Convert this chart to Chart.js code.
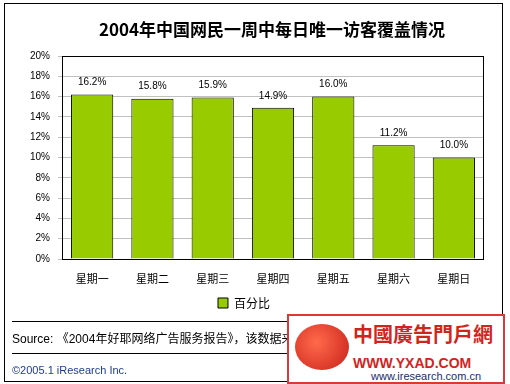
<!DOCTYPE html>
<html><head><meta charset="utf-8">
<script src="https://cdn.jsdelivr.net/npm/chart.js@4/dist/chart.umd.min.js"></script>
<style>
html,body{margin:0;padding:0;background:#fff;}
#wrap{position:relative;width:510px;height:384px;overflow:hidden;}
canvas{position:absolute;left:0;top:0;}
.txt{position:absolute;white-space:nowrap;}
</style></head><body>
<div id="wrap">
<canvas id="c" width="510" height="384"></canvas>
<div class="txt" id="src" style="left:12px;top:329px;font:12px 'Liberation Sans','Noto Sans CJK SC',sans-serif;color:#000;">Source: 《2004年好耶网络广告服务报告》，该数据来自IFAS（iResearch AdTracker）</div>
<div class="txt" style="left:12px;top:364px;font:11px 'Liberation Sans',sans-serif;color:#1e3c8c;">©2005.1 iResearch Inc.</div>
<div style="position:absolute;left:287px;top:314px;width:218px;height:70px;background:#fff;border:2px solid #d83a3a;box-sizing:border-box;">
  <div style="position:absolute;left:6px;top:8px;width:54px;height:46px;border-radius:50%;background:radial-gradient(circle at 40% 40%,#ff6a4a,#c8201a);"></div>
  <div class="txt" style="left:64px;top:6px;font:bold 20px 'Noto Sans CJK TC',sans-serif;color:#d0241c;line-height:24px;">中國廣告門戶網</div>
  <div class="txt" style="left:64px;top:39px;font:bold 14px 'Liberation Sans',sans-serif;color:#d0241c;line-height:16px;">WWW.YXAD.COM</div>
  <div class="txt" style="left:82px;top:54px;font:11px 'Liberation Sans',sans-serif;color:#1e2a6e;line-height:13px;">www.iresearch.com.cn</div>
</div>
</div>
<script>
const categories = ['星期一','星期二','星期三','星期四','星期五','星期六','星期日'];
const seriesName = '百分比';
const values = [16.2, 15.8, 15.9, 14.9, 16.0, 11.2, 10.0];
const yTicks = [0,2,4,6,8,10,12,14,16,18,20];
const titleText = '2004年中国网民一周中每日唯一访客覆盖情况';

const decor = {
  id: 'decor',
  beforeDraw(chart) {
    const ctx = chart.ctx;
    ctx.save();
    ctx.fillStyle = '#fff';
    ctx.fillRect(0,0,chart.width,chart.height);
    ctx.strokeStyle = '#000';
    ctx.lineWidth = 1;
    ctx.strokeRect(4.5,3.5,498,378);
    ctx.beginPath();
    ctx.moveTo(12,321.5); ctx.lineTo(495,321.5);
    ctx.moveTo(12,353.5); ctx.lineTo(495,353.5);
    ctx.stroke();
    ctx.fillStyle = '#000';
    ctx.font = "bold 17px 'Noto Sans CJK SC', sans-serif";
    ctx.textAlign = 'center';
    ctx.textBaseline = 'middle';
    ctx.fillText(titleText, 272, 30);
    ctx.restore();
  },
  afterDatasetsDraw(chart) {
    const ctx = chart.ctx;
    const a = chart.chartArea;
    ctx.save();
    ctx.strokeStyle = '#000';
    ctx.lineWidth = 1;
    ctx.strokeRect(Math.round(a.left)+0.5, Math.round(a.top)+0.5, Math.round(a.right-a.left)-1, Math.round(a.bottom-a.top));
    ctx.fillStyle = '#000';
    ctx.font = "10px 'Liberation Sans', sans-serif";
    ctx.textAlign = 'center';
    ctx.textBaseline = 'middle';
    chart.getDatasetMeta(0).data.forEach((bar, i) => {
      ctx.fillText(values[i].toFixed(1) + '%', bar.x, bar.y - 12);
    });
    ctx.restore();
  }
};

new Chart(document.getElementById('c'), {
  type: 'bar',
  data: {
    labels: categories,
    datasets: [{
      label: seriesName,
      data: values,
      backgroundColor: '#99cc00',
      borderColor: '#000',
      borderWidth: 1,
      barPercentage: 0.7,
      categoryPercentage: 1.0
    }]
  },
  options: {
    responsive: false,
    animation: false,
    devicePixelRatio: 1,
    layout: { padding: { left: 4, right: 26, top: 56, bottom: 65 } },
    plugins: {
      title: { display: false },
      tooltip: { enabled: false },
      legend: {
        display: true,
        position: 'bottom',
        labels: {
          boxWidth: 10, boxHeight: 10, padding: 6,
          color: '#000',
          font: { family: "'Noto Sans CJK SC', sans-serif", size: 12 }
        }
      }
    },
    scales: {
      x: {
        grid: { display: false, drawTicks: false },
        border: { display: false },
        ticks: { color: '#000', padding: 13, font: { family: "'Noto Sans CJK SC', sans-serif", size: 11 } },
        afterFit(s) { s.height = 32; }
      },
      y: {
        min: 0, max: 20,
        afterBuildTicks(s) { s.ticks = yTicks.map(v => ({ value: v })); },
        grid: { color: '#c0c0c0', tickLength: 4, drawTicks: true },
        border: { display: false },
        ticks: {
          color: '#000', padding: 8,
          font: { family: "'Liberation Sans', sans-serif", size: 10 },
          callback: v => v + '%'
        },
        afterFit(s) { s.width = 58; }
      }
    }
  },
  plugins: [decor]
});
</script>
</body></html>
